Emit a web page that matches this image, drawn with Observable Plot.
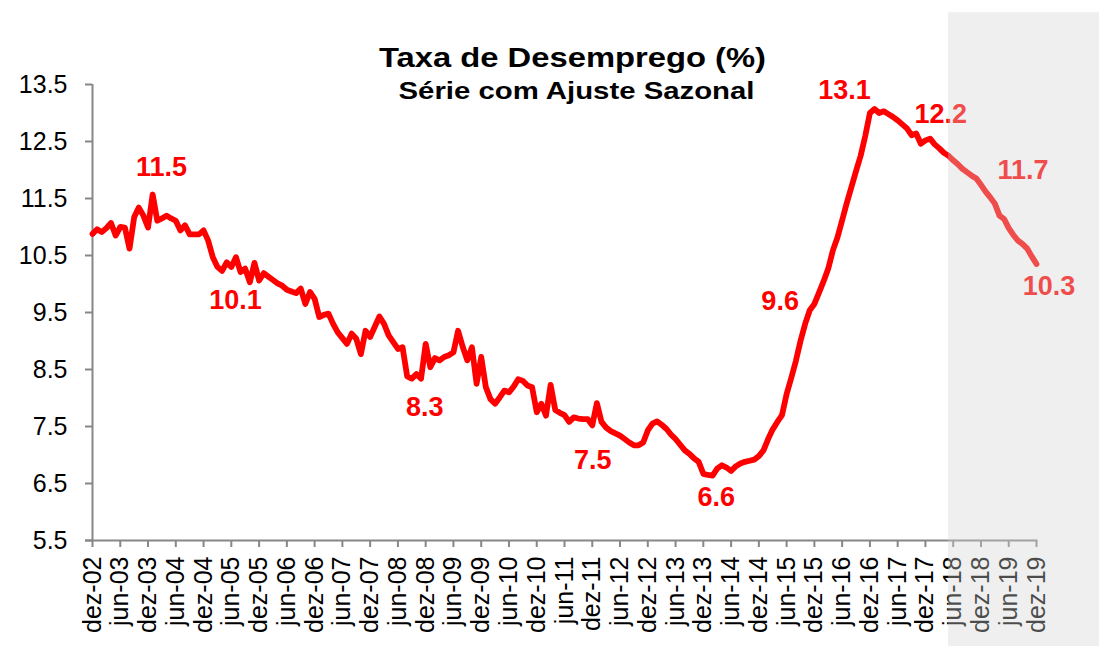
<!DOCTYPE html>
<html>
<head>
<meta charset="utf-8">
<script src="https://cdn.jsdelivr.net/npm/d3@7"></script>
<script src="https://cdn.jsdelivr.net/npm/@observablehq/plot@0.6"></script>
<style>
  html, body { margin: 0; padding: 0; background: #fff; }
  #chart svg { display: block; }
</style>
</head>
<body>
<div id="chart"></div>
<script>
// ---- Data (monthly, dez-02 .. dez-19; index 0 = dez-02) ----
const unemployment = [
  10.88, 10.96, 10.91, 10.98, 11.07, 10.85, 11.00, 10.99, 10.62, 11.17,
  11.34, 11.20, 10.99, 11.57, 11.11, 11.15, 11.20, 11.15, 11.11, 10.94,
  11.03, 10.87, 10.87, 10.87, 10.94, 10.76, 10.47, 10.30, 10.23, 10.38,
  10.30, 10.47, 10.21, 10.27, 10.03, 10.37, 10.06, 10.19, 10.13, 10.07,
  10.01, 9.97, 9.90, 9.87, 9.84, 9.92, 9.65, 9.86, 9.74, 9.42,
  9.46, 9.48, 9.30, 9.15, 9.05, 8.95, 9.13, 9.04, 8.77, 9.18,
  9.07, 9.25, 9.43, 9.30, 9.10, 8.98, 8.86, 8.89, 8.38, 8.34,
  8.42, 8.34, 8.95, 8.54, 8.70, 8.66, 8.72, 8.75, 8.80, 9.18,
  8.90, 8.66, 8.89, 8.25, 8.72, 8.19, 7.98, 7.90, 8.01, 8.13,
  8.10, 8.20, 8.33, 8.30, 8.22, 8.19, 7.75, 7.90, 7.69, 8.23,
  7.79, 7.74, 7.70, 7.58, 7.66, 7.64, 7.63, 7.63, 7.52, 7.91,
  7.58, 7.48, 7.42, 7.38, 7.34, 7.28, 7.22, 7.17, 7.17, 7.22,
  7.43, 7.55, 7.59, 7.53, 7.46, 7.36, 7.28, 7.18, 7.08, 7.02,
  6.94, 6.88, 6.67, 6.65, 6.64, 6.76, 6.82, 6.78, 6.72, 6.80,
  6.85, 6.88, 6.90, 6.92, 6.98, 7.08, 7.28, 7.45, 7.58, 7.70,
  8.07, 8.35, 8.65, 9.00, 9.30, 9.54, 9.65, 9.85, 10.05, 10.27,
  10.59, 10.82, 11.12, 11.42, 11.70, 11.98, 12.25, 12.60, 13.00, 13.07,
  13.00, 13.03, 12.98, 12.93, 12.87, 12.80, 12.73, 12.61, 12.64, 12.46,
  12.52, 12.55, 12.45, 12.38, 12.30, 12.25, 12.17, 12.10, 12.02, 11.96,
  11.90, 11.85, 11.74, 11.62, 11.52, 11.41, 11.20, 11.14, 10.98, 10.86,
  10.76, 10.70, 10.62, 10.48, 10.35
];

const tickLabels = [
  "dez-02","jun-03","dez-03","jun-04","dez-04","jun-05","dez-05","jun-06","dez-06",
  "jun-07","dez-07","jun-08","dez-08","jun-09","dez-09","jun-10","dez-10","jun-11",
  "dez-11","jun-12","dez-12","jun-13","dez-13","jun-14","dez-14","jun-15","dez-15",
  "jun-16","dez-16","jun-17","dez-17","jun-18","dez-18","jun-19","dez-19"
];
const yTicks = [5.5, 6.5, 7.5, 8.5, 9.5, 10.5, 11.5, 12.5, 13.5];

// Annotations: text, position (month index, value)
const labelText  = ["11.5", "10.1", "8.3", "7.5", "6.6", "9.6", "13.1", "12.2", "11.7", "10.3"];
const labelMonth = [14.9, 30.9, 71.8, 108.1, 134.8, 148.6, 162.5, 183.3, 201.1, 206.7];
const labelValue = [12.04, 9.71, 7.83, 6.90, 6.25, 9.69, 13.39, 12.97, 11.99, 9.95];

// Projection period shading (month index from mai-18)
const forecastStart = 185;
const forecastEnd = 218;
const shadeBottom = 3.6;
const shadeTop = 14.76;

const titleText = "Taxa de Desemprego (%)";
const subtitleText = "Série com Ajuste Sazonal";

// ---- Build ----
const series = unemployment.map((v, i) => ({ m: i, v }));
const tickMonths = tickLabels.map((_, i) => i * 6);
const labels = labelText.map((t, i) => ({ t, m: labelMonth[i], v: labelValue[i] }));

const font = "'Liberation Sans', Arial, Helvetica, sans-serif";
const axisGray = "#878787";

const chart = Plot.plot({
  width: 1099,
  height: 646,
  marginLeft: 92,
  marginRight: 63,
  marginTop: 84,
  marginBottom: 106,
  style: { fontFamily: font, background: "#fff", overflow: "visible" },
  x: { type: "linear", domain: [0, 204] },
  y: { domain: [5.5, 13.5] },
  marks: [
    Plot.ruleY([5.5], { stroke: axisGray, strokeWidth: 2, x1: -1.5, x2: 204.3 }),
    Plot.ruleX([0], { stroke: axisGray, strokeWidth: 2 }),
    Plot.axisY({
      ticks: yTicks, tickFormat: d => d.toFixed(1), tickSize: 7, tickPadding: 18,
      stroke: axisGray, strokeWidth: 2, fill: "#000", fontSize: 25, label: null
    }),
    Plot.axisX({
      ticks: tickMonths, tickFormat: (d) => tickLabels[tickMonths.indexOf(d)],
      tickRotate: -90, tickSize: 7, tickPadding: 9,
      stroke: axisGray, strokeWidth: 2, fill: "#000", fontSize: 25, label: null
    }),
    Plot.line(series, {
      x: "m", y: "v", stroke: "#ff0000", strokeWidth: 5.8,
      strokeLinejoin: "round", strokeLinecap: "round"
    }),
    Plot.text(labels, {
      x: "m", y: "v", text: "t", fill: "#ff0000", fontSize: 27, fontWeight: "bold",
      textAnchor: "middle", lineAnchor: "middle"
    }),
    Plot.text([titleText], {
      frameAnchor: "top", dx: 8, dy: -26, text: d => d, fontSize: 27.5,
      fontWeight: "bold", fill: "#000", lineAnchor: "middle"
    }),
    Plot.text([subtitleText], {
      frameAnchor: "top", dx: 12, dy: 7, text: d => d, fontSize: 24.5,
      fontWeight: "bold", fill: "#000", lineAnchor: "middle"
    }),
    Plot.rect([{ a: forecastStart, b: forecastEnd, lo: shadeBottom, hi: shadeTop }], {
      x1: "a", x2: "b", y1: "lo", y2: "hi", fill: "#d4d4d4", fillOpacity: 0.36
    })
  ]
});

// Stretch the title texts horizontally as in the reference
d3.select(chart).selectAll("text")
  .filter(function () { return this.textContent === titleText; })
  .attr("textLength", 387).attr("lengthAdjust", "spacingAndGlyphs");
d3.select(chart).selectAll("text")
  .filter(function () { return this.textContent === subtitleText; })
  .attr("textLength", 356).attr("lengthAdjust", "spacingAndGlyphs");

document.getElementById("chart").appendChild(chart);
</script>
</body>
</html>
